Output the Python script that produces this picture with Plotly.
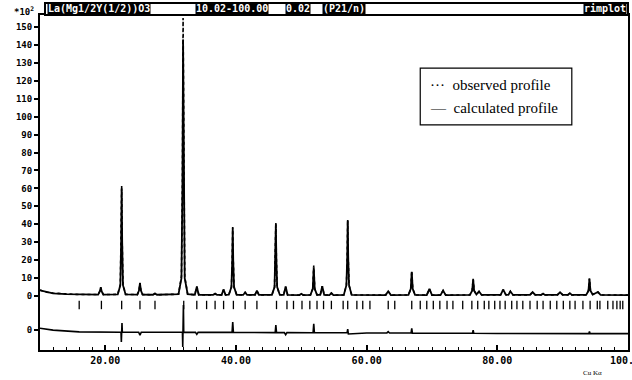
import plotly.graph_objects as go

# ---------------- data ----------------
two_theta = [
    10.0, 11.0, 12.0, 14.0, 16.0,
    18.9, 19.15, 19.3, 19.45, 19.7,
    21.9, 22.3, 22.42, 22.5, 22.58, 22.7, 23.1,
    24.9, 25.15, 25.3, 25.45, 25.7,
    27.3, 27.6, 27.9,
    31.2, 31.65, 31.8, 31.9, 32.0, 32.15, 32.6,
    33.7, 34.0, 34.3,
    36.5, 36.8, 37.1,
    37.8, 38.1, 38.4,
    38.9, 39.3, 39.42, 39.5, 39.58, 39.7, 40.1,
    41.1, 41.4, 41.7,
    42.9, 43.2, 43.5,
    45.5, 45.9, 46.02, 46.1, 46.18, 46.3, 46.7,
    47.3, 47.6, 47.9,
    49.7, 50.0, 50.3,
    51.4, 51.75, 51.9, 52.05, 52.4,
    52.9, 53.2, 53.5,
    54.3, 54.6, 54.9,
    56.5, 56.9, 57.02, 57.1, 57.18, 57.3, 57.7,
    62.9, 63.3, 63.7,
    66.4, 66.75, 66.9, 67.05, 67.4,
    69.2, 69.6, 70.0,
    71.3, 71.7, 72.1,
    75.8, 76.15, 76.3, 76.45, 76.8, 77.2, 77.6,
    80.5, 80.9, 81.3, 81.7, 82.0, 82.4,
    85.0, 85.4, 85.8, 86.7, 87.0, 87.3,
    89.2, 89.6, 90.0, 90.8, 91.1, 91.4,
    93.6, 93.95, 94.1, 94.25, 94.6, 95.4, 95.8, 100.0,
]

calculated_profile = [
    3.2, 2.2, 1.5, 1.0, 0.8,
    0.8, 2.5, 4.8, 2.5, 0.8,
    0.9, 6, 30, 60, 30, 6, 0.9,
    0.8, 3, 7.2, 3, 0.8,
    0.7, 1.4, 0.7,
    1.0, 10, 60, 143, 60, 10, 1.0,
    0.7, 5.2, 0.7,
    0.6, 1.3, 0.6,
    0.6, 3.6, 0.6,
    0.7, 5, 19, 38, 19, 5, 0.7,
    0.6, 2.0, 0.6,
    0.6, 3.0, 0.6,
    0.7, 5, 20, 40, 20, 5, 0.7,
    0.6, 5.3, 0.6,
    0.5, 1.2, 0.5,
    0.6, 4, 16, 4, 0.6,
    0.6, 5.5, 0.6,
    0.5, 1.6, 0.5,
    0.6, 6, 21, 42, 21, 6, 0.6,
    0.5, 2.6, 0.5,
    0.6, 4, 13.5, 4, 0.6,
    0.5, 4.0, 0.5,
    0.5, 3.0, 0.5,
    0.6, 3, 9.3, 3, 0.8, 2.5, 0.6,
    0.6, 3.6, 0.7, 0.6, 2.6, 0.6,
    0.6, 2.2, 0.6, 0.6, 1.3, 0.6,
    0.6, 2.1, 0.6, 0.6, 1.6, 0.6,
    0.6, 3, 9.6, 3, 0.8, 2.2, 0.6, 0.5,
]

observed_profile = [
    3.4, 2.1, 1.6, 1.0, 0.8,
    0.8, 2.6, 4.9, 2.4, 0.8,
    0.9, 6.5, 31, 61.5, 31, 6.5, 0.9,
    0.8, 3, 7.4, 3, 0.8,
    0.7, 1.4, 0.7,
    1.0, 11, 64, 155, 64, 11, 1.0,
    0.7, 5.3, 0.7,
    0.6, 1.3, 0.6,
    0.6, 3.6, 0.6,
    0.7, 5, 20, 38.5, 20, 5, 0.7,
    0.6, 2.0, 0.6,
    0.6, 3.0, 0.6,
    0.7, 5, 21, 41, 21, 5, 0.7,
    0.6, 5.0, 0.6,
    0.5, 1.2, 0.5,
    0.6, 4, 17, 4, 0.6,
    0.6, 5.5, 0.6,
    0.5, 1.6, 0.5,
    0.6, 6, 21, 42.5, 21, 6, 0.6,
    0.5, 2.6, 0.5,
    0.6, 4, 14, 4, 0.6,
    0.5, 4.0, 0.5,
    0.5, 3.0, 0.5,
    0.6, 3, 9.6, 3, 0.8, 2.5, 0.6,
    0.6, 3.6, 0.7, 0.6, 2.6, 0.6,
    0.6, 2.2, 0.6, 0.6, 1.3, 0.6,
    0.6, 2.1, 0.6, 0.6, 1.6, 0.6,
    0.6, 3, 9.9, 3, 0.8, 2.2, 0.6, 0.5,
]

difference_theta = [
    10.0, 12.0, 16.0, 20.0, 22.4, 22.45, 22.55, 22.6, 25.1, 25.3, 25.5,
    30.0, 31.8, 31.85, 31.95, 32.0, 33.8, 34.0, 34.2,
    39.4, 39.5, 39.6, 46.0, 46.1, 46.2, 47.4, 47.6, 47.8,
    51.8, 51.9, 52.0, 57.0, 57.1, 57.2, 60.0, 63.1, 63.3, 63.5, 66.8, 66.9, 67.0,
    70.0, 76.2, 76.3, 76.4, 80.0, 85.0, 90.0, 94.0, 94.1, 94.2, 100.0,
]
difference_values = [
    1.0, 0.0, -1.0, -1.2, -1.2, -6.7, 3.9, -1.2, -1.2, -2.8, -1.2,
    -1.2, -1.2, -9.4, 14.0, -1.2, -1.3, -2.4, -1.3,
    -1.3, 4.5, -1.3, -1.4, 2.8, -1.4, -1.4, -2.6, -1.4,
    -1.5, 3.5, -1.5, -1.5, 0.5, -2.2, -1.6, -1.6, -0.9, -1.6, -1.6, 1.0, -1.8,
    -1.7, -1.7, 0.0, -1.8, -1.9, -1.9, -2.0, -2.0, -0.8, -2.0, -2.0,
]

bragg_positions = [
    16.0, 19.4, 22.5, 25.3, 27.6, 32.0, 34.0, 35.5, 36.8, 38.1, 39.6, 41.4,
    43.2, 46.2, 47.8, 48.8, 50.1, 51.3, 52.4, 53.4, 54.6, 56.4, 57.1, 58.5,
    59.4, 60.5, 63.3, 64.3, 66.9, 68.2, 69.2, 70.2, 71.2, 72.3, 73.2, 74.7,
    76.1, 77.0, 78.0, 78.7, 79.6, 80.4, 81.2, 82.2, 83.0, 83.9, 85.0, 86.1,
    87.0, 88.1, 89.1, 90.1, 91.1, 91.9, 93.1, 94.2, 95.3, 95.7, 96.9, 97.7,
    98.3, 98.8, 99.2,
]

y_tick_values = [-19, 0, 10, 20, 30, 40, 50, 60, 70, 80, 90, 100, 110, 120, 130, 140, 150]
y_tick_labels = ["0", "0", "10", "20", "30", "40", "50", "60", "70", "80", "90",
                 "100", "110", "120", "130", "140", "150"]

header_texts = ["La(Mg1/2Y(1/2))O3", "10.02-100.00", "0.02", "(P21/n)", "rimplot"]
legend_texts = ["···  observed profile", "—  calculated profile"]

# ---------------- styling / layout constants ----------------
DIFF_OFFSET = -19.0
TICK_ROW_Y = -5.0
MONO = "DejaVu Sans Mono"

fig = go.Figure()

fig.add_trace(go.Scatter(
    x=two_theta, y=observed_profile, mode="lines",
    line=dict(color="black", width=1.6, dash="dot"), showlegend=False))
fig.add_trace(go.Scatter(
    x=two_theta, y=calculated_profile, mode="lines",
    line=dict(color="black", width=1.8), showlegend=False))
fig.add_trace(go.Scatter(
    x=bragg_positions, y=[TICK_ROW_Y] * len(bragg_positions), mode="markers",
    marker=dict(symbol="line-ns", size=6, line=dict(color="black", width=1.3)),
    showlegend=False))
fig.add_trace(go.Scatter(
    x=difference_theta, y=[v + DIFF_OFFSET for v in difference_values], mode="lines",
    line=dict(color="black", width=1.6), showlegend=False))

# header bar
fig.add_shape(type="rect", xref="paper", yref="paper",
              x0=0.0085, x1=1.0, y0=1.0, y1=1.0358,
              line=dict(color="black", width=2), fillcolor="white", layer="above")
header_x = [0.012, 0.2636, 0.4167, 0.4796, 0.998]
header_anchor = ["left", "left", "left", "left", "right"]
for txt, hx, anc in zip(header_texts, header_x, header_anchor):
    fig.add_annotation(text=txt, xref="paper", yref="paper", x=hx, y=1.018,
                       xanchor=anc, yanchor="middle", showarrow=False,
                       bgcolor="black", borderpad=0,
                       font=dict(family=MONO, size=10, color="white", weight="bold"))

# legend box
fig.add_shape(type="rect", xref="x", yref="y", x0=68.2, x1=91.4, y0=95.4, y1=127.1,
              line=dict(color="black", width=1.2), fillcolor="white")
for txt, ly in zip(legend_texts, [117.7, 104.8]):
    fig.add_annotation(text=txt, xref="x", yref="y", x=69.4, y=ly,
                       xanchor="left", yanchor="middle", showarrow=False,
                       font=dict(family="Liberation Serif", size=15, color="black"))

# axis unit label and radiation
fig.add_annotation(text="*10<sup>2</sup>", xref="paper", yref="paper", x=-0.006, y=1.012,
                   xanchor="right", yanchor="middle", showarrow=False,
                   font=dict(family=MONO, size=9, color="black", weight="bold"))
fig.add_annotation(text="Cu Kα", xref="paper", yref="paper", x=0.94, y=-0.068,
                   xanchor="center", yanchor="middle", showarrow=False,
                   font=dict(family="Liberation Serif", size=7, color="black"))

fig.update_layout(
    width=632, height=380,
    margin=dict(l=40, r=4, t=15, b=30, autoexpand=False),
    paper_bgcolor="white", plot_bgcolor="white",
    showlegend=False,
    xaxis=dict(range=[10, 100], showgrid=False, zeroline=False,
               showline=True, linecolor="black", linewidth=2, mirror=True,
               ticks="inside", ticklen=5, tickwidth=1.5, tickcolor="black",
               tick0=0, dtick=20, tickformat=".2f", ticklabeloverflow="allow",
               minor=dict(dtick=2, ticks="inside", ticklen=3, tickcolor="black", tickwidth=1),
               tickfont=dict(family=MONO, size=10, color="black", weight="bold")),
    yaxis=dict(range=[-30.11, 156.69], showgrid=False, zeroline=False,
               showline=True, linecolor="black", linewidth=2, mirror=True,
               ticks="outside", ticklen=4, tickwidth=1.5, tickcolor="black",
               tickmode="array", tickvals=y_tick_values, ticktext=y_tick_labels,
               tickfont=dict(family=MONO, size=9, color="black", weight="bold")),
)

fig.write_html("out.html", config={"displayModeBar": False},
               post_script="document.body.style.margin='0px';")
